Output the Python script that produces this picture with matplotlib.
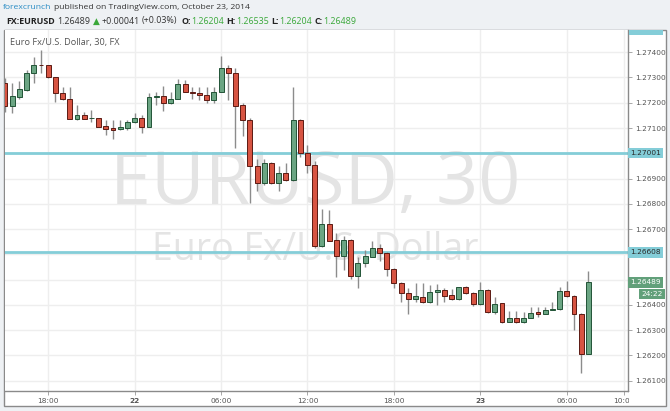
import matplotlib.pyplot as plt
import numpy as np
from matplotlib.patches import Rectangle

# EURUSD 30-minute bars, 2014-10-21 15:00 .. 2014-10-23 07:30
opens = [1.27280, 1.27187, 1.27224, 1.27251, 1.27317, 1.27350, 1.27350, 1.27301, 1.27238, 1.27215,
         1.27135, 1.27151, 1.27140, 1.27139, 1.27108, 1.27100, 1.27095, 1.27101, 1.27123, 1.27139,
         1.27105, 1.27223, 1.27227, 1.27198, 1.27214, 1.27273, 1.27244, 1.27240, 1.27231, 1.27211,
         1.27242, 1.27337, 1.27319, 1.27191, 1.27132, 1.26950, 1.26881, 1.26960, 1.26881, 1.26921,
         1.26894, 1.27132, 1.27002, 1.26954, 1.26633, 1.26720, 1.26657, 1.26593, 1.26657, 1.26514,
         1.26564, 1.26591, 1.26624, 1.26606, 1.26541, 1.26485, 1.26446, 1.26422, 1.26432, 1.26411,
         1.26452, 1.26459, 1.26439, 1.26422, 1.26469, 1.26446, 1.26403, 1.26459, 1.26373, 1.26406,
         1.26333, 1.26347, 1.26331, 1.26347, 1.26372, 1.26364, 1.26381, 1.26382, 1.26455, 1.26435,
         1.26364, 1.26204]
highs = [1.27298, 1.27280, 1.27288, 1.27330, 1.27380, 1.27409, 1.27350, 1.27301, 1.27264, 1.27264,
         1.27191, 1.27165, 1.27172, 1.27140, 1.27132, 1.27132, 1.27132, 1.27132, 1.27161, 1.27152,
         1.27238, 1.27244, 1.27267, 1.27244, 1.27293, 1.27290, 1.27264, 1.27264, 1.27264, 1.27261,
         1.27385, 1.27350, 1.27337, 1.27200, 1.27140, 1.26976, 1.26976, 1.26966, 1.26950, 1.26963,
         1.27261, 1.27136, 1.27033, 1.26971, 1.26778, 1.26776, 1.26686, 1.26673, 1.26661, 1.26591,
         1.26617, 1.26654, 1.26641, 1.26609, 1.26546, 1.26490, 1.26465, 1.26485, 1.26485, 1.26479,
         1.26481, 1.26465, 1.26461, 1.26472, 1.26475, 1.26452, 1.26492, 1.26463, 1.26432, 1.26407,
         1.26377, 1.26377, 1.26373, 1.26390, 1.26390, 1.26390, 1.26412, 1.26469, 1.26496, 1.26439,
         1.26368, 1.26535]
lows = [1.27164, 1.27161, 1.27214, 1.27247, 1.27280, 1.27317, 1.27298, 1.27204, 1.27211, 1.27134,
        1.27132, 1.27134, 1.27125, 1.27104, 1.27073, 1.27055, 1.27092, 1.27092, 1.27119, 1.27082,
        1.27104, 1.27191, 1.27169, 1.27195, 1.27213, 1.27241, 1.27214, 1.27211, 1.27200, 1.27198,
        1.27241, 1.27211, 1.27020, 1.27069, 1.26802, 1.26852, 1.26875, 1.26878, 1.26852, 1.26890,
        1.26890, 1.26984, 1.26921, 1.26624, 1.26629, 1.26653, 1.26511, 1.26538, 1.26501, 1.26465,
        1.26551, 1.26589, 1.26575, 1.26514, 1.26465, 1.26412, 1.26364, 1.26412, 1.26408, 1.26409,
        1.26399, 1.26412, 1.26419, 1.26419, 1.26443, 1.26395, 1.26399, 1.26366, 1.26364, 1.26328,
        1.26332, 1.26328, 1.26327, 1.26346, 1.26353, 1.26362, 1.26379, 1.26381, 1.26433, 1.26300,
        1.26131, 1.26204]
closes = [1.27187, 1.27227, 1.27253, 1.27317, 1.27350, 1.27348, 1.27301, 1.27238, 1.27214, 1.27135,
          1.27152, 1.27136, 1.27141, 1.27105, 1.27097, 1.27092, 1.27103, 1.27125, 1.27139, 1.27105,
          1.27222, 1.27225, 1.27198, 1.27214, 1.27273, 1.27242, 1.27238, 1.27230, 1.27211, 1.27242,
          1.27337, 1.27317, 1.27189, 1.27132, 1.26950, 1.26881, 1.26960, 1.26881, 1.26921, 1.26894,
          1.27132, 1.27000, 1.26954, 1.26633, 1.26720, 1.26654, 1.26593, 1.26657, 1.26514, 1.26564,
          1.26593, 1.26624, 1.26606, 1.26541, 1.26488, 1.26446, 1.26422, 1.26435, 1.26411, 1.26452,
          1.26459, 1.26435, 1.26422, 1.26469, 1.26446, 1.26403, 1.26459, 1.26373, 1.26403, 1.26331,
          1.26347, 1.26331, 1.26347, 1.26369, 1.26364, 1.26379, 1.26382, 1.26455, 1.26435, 1.26364,
          1.26204, 1.26489]

time_ticks = [6, 18, 30, 42, 54, 66, 78, 86]
time_labels = ["18:00", "22", "06:00", "12:00", "18:00", "23", "06:00", "10:00"]
price_ticks = [1.261, 1.262, 1.263, 1.264, 1.265, 1.266, 1.267,
               1.268, 1.269, 1.270, 1.271, 1.272, 1.273, 1.274]
hidden_ticks = [1.265, 1.266, 1.270]  # covered by the price boxes
levels = [1.27001, 1.26608]
last_price = 1.26489
countdown = "24:22"

UP, UP_EDGE = "#6ba583", "#225437"
DOWN, DOWN_EDGE = "#d75442", "#5b1a13"
WICK = "#8c8c8c"
LEVEL = "#84cdd8"
LABEL = "#555555"
GREEN = "#3aa83a"

W, H = 670, 411
fig = plt.figure(figsize=(W / 100, H / 100), dpi=100)
fig.patch.set_facecolor("#eef1f4")


def fx(px):
    return px / W


def fy(py):
    return 1 - py / H


# white chart panel with grey frame
fig.patches.append(Rectangle((fx(4), fy(406)), fx(666) - fx(4), fy(30) - fy(406),
                             transform=fig.transFigure, facecolor="white",
                             edgecolor="#8a8a8a", lw=1, zorder=-1))

ax = fig.add_axes([fx(5), fy(391), fx(628) - fx(5), fy(30) - fy(391)])
ax.set_facecolor("white")

o, h, l, c = map(np.array, (opens, highs, lows, closes))
x = np.arange(len(o))
up = c >= o

ax.vlines(x, l, h, color=WICK, lw=1, zorder=3)
body = np.maximum(np.abs(c - o), 0.000015)
ax.bar(x, body, bottom=np.minimum(o, c), width=0.68,
       color=np.where(up, UP, DOWN), edgecolor=np.where(up, UP_EDGE, DOWN_EDGE),
       linewidth=0.7, zorder=4)

for lv in levels:
    ax.axhline(lv, color=LEVEL, lw=2, zorder=2)

# watermark
ax.text(0.4976, 0.571, "EURUSD, 30", transform=ax.transAxes, ha="center", va="center",
        fontsize=53, color="#e4e4e4", family="Open Sans", zorder=1)
ax.text(0.4976, 0.39, "Euro Fx/U.S. Dollar", transform=ax.transAxes, ha="center", va="center",
        fontsize=27, color="#e4e4e4", family="Open Sans", zorder=1)
ax.text(0.008, 0.964, "Euro Fx/U.S. Dollar, 30, FX", transform=ax.transAxes, ha="left",
        va="center", fontsize=6.6, color=LABEL, family="Open Sans", zorder=6)

ax.set_xlim(0, 86.5)
ax.set_ylim(1.26059, 1.27488)
ax.yaxis.tick_right()
ax.set_yticks(price_ticks)
ax.set_yticklabels(["" if any(abs(p - q) < 1e-9 for q in hidden_ticks) else f"{p:.5f}"
                    for p in price_ticks])
ax.set_xticks(time_ticks)
ax.set_xticklabels(time_labels)
for lbl in ax.get_xticklabels():
    if lbl.get_text() in ("22", "23"):
        lbl.set_fontweight("bold")
ax.tick_params(axis="both", labelsize=5.3, colors=LABEL, length=3, width=0.6, pad=2)
ax.tick_params(axis="both", color="#9a9a9a")
ax.grid(color="#eeeeee", lw=1, zorder=0)
ax.set_axisbelow(True)
for side in ("left", "top"):
    ax.spines[side].set_visible(False)
for side in ("right", "bottom"):
    ax.spines[side].set_color("#8a8a8a")
    ax.spines[side].set_linewidth(1)

# price-scale boxes
ytr = ax.get_yaxis_transform()
for lv in levels:
    ax.text(1.003, lv, f"{lv:.5f}", transform=ytr, ha="left", va="center", fontsize=5.3,
            color="#2a2a2a", bbox=dict(boxstyle="square,pad=0.3", fc=LEVEL, ec="none"),
            zorder=10, clip_on=False)
ax.text(1.003, last_price, f"{last_price:.5f}", transform=ytr, ha="left", va="center",
        fontsize=5.3, color="white",
        bbox=dict(boxstyle="square,pad=0.3", fc="#62a07a", ec="none"), zorder=10, clip_on=False)
ax.text(1.056, last_price - 0.00045, countdown, transform=ytr, ha="right", va="center",
        fontsize=5.3, color="white",
        bbox=dict(boxstyle="square,pad=0.3", fc="#62a07a", ec="none"), zorder=10, clip_on=False)

# cut-off alert box at the very top of the price scale and time-scale overflow
fig.patches.append(Rectangle((fx(629), fy(35)), fx(663) - fx(629), fy(30) - fy(35),
                             transform=fig.transFigure, facecolor=LEVEL, edgecolor="none",
                             zorder=5))
fig.patches.append(Rectangle((fx(628.6), fy(405)), fx(665) - fx(628.6), fy(392) - fy(405),
                             transform=fig.transFigure, facecolor="white", edgecolor="none",
                             zorder=5))

# header, laid out piece by piece
renderer = fig.canvas.get_renderer()


def text_row(pieces, x0, y, size):
    cur = x0
    for gap, txt, col, wt in pieces:
        cur += gap
        t = fig.text(fx(cur), fy(y), txt, ha="left", va="center", fontsize=size, color=col,
                     fontweight=wt, family=["Open Sans", "DejaVu Sans"])
        cur += t.get_window_extent(renderer).width


text_row([(0, "forexcrunch", "#2a8cc4", "normal"),
          (3, "published on TradingView.com, October 23, 2014", "#333333", "normal")],
         3, 7.5, 6.1)
text_row([(0, "FX:EURUSD", "#222222", "bold"), (3, "1.26489", "#333333", "normal"),
          (2, "\u25b2", GREEN, "normal"), (2, "+0.00041", "#333333", "normal"),
          (2, "(+0.03%)", "#333333", "normal"),
          (4, "O:", "#222222", "bold"), (0, "1.26204", GREEN, "normal"),
          (3, "H:", "#222222", "bold"), (0, "1.26535", GREEN, "normal"),
          (3, "L:", "#222222", "bold"), (0, "1.26204", GREEN, "normal"),
          (3, "C:", "#222222", "bold"), (0, "1.26489", GREEN, "normal")],
         6, 21, 6.4)

fig.savefig("out.png", dpi=100, facecolor=fig.get_facecolor())
